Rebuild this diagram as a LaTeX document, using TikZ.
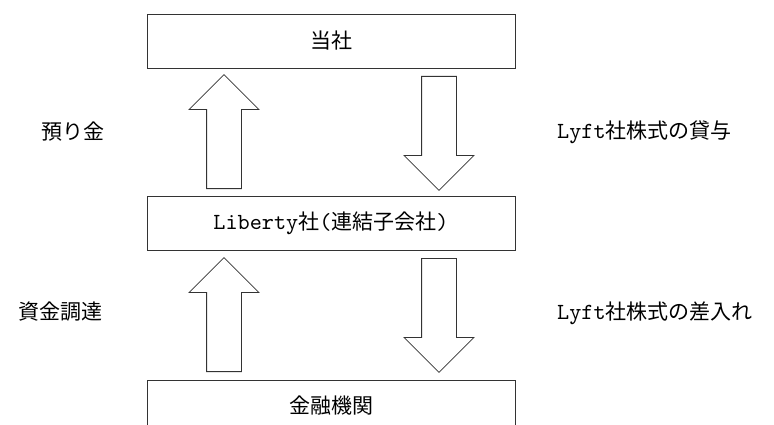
\documentclass[tikz,border=0pt]{standalone}
\usepackage{fontspec}
\setmainfont{Noto Sans CJK JP}
\setmonofont{lmmono10-regular.otf}[Scale=1.1]
\usetikzlibrary{positioning, shapes.arrows}
\newcommand{\lat}[1]{{\ttfamily #1}}

\begin{document}
\begin{tikzpicture}[
            x=1pt, y=-1pt,
            every node/.style={font=\fontsize{21}{25}\selectfont},
            box/.style={draw=black!80, line width=0.8pt, minimum width=368pt, minimum height=54pt, inner sep=0pt},
            bigarrow/.style={single arrow, draw=black!80, line width=0.8pt, inner xsep=0pt, inner ysep=17pt,
                single arrow head extend=17.5pt, minimum height=114pt, anchor=tail},
            uparrow/.style={bigarrow, rotate=90},
            downarrow/.style={bigarrow, rotate=-90},
            lbl/.style={inner sep=0pt}
            ]
        \clip (0,0) rectangle (774,425);

        \node[box] (tosha) at (331,41) {当社};
        \node[box] (liberty) at (331,223) {\lat{Liberty}社\lat{(}連結子会社\lat{)}};
        \node[box, minimum height=52pt] (bank) at (331,406) {金融機関};

        % frecce
        \node[uparrow] (up1) at (224,189) {};
        \node[downarrow] (down1) at (439,76) {};
        \node[uparrow] (up2) at (224,372) {};
        \node[downarrow] (down2) at (439,258) {};

        % etichette
        \node[lbl, anchor=east] (deposit) at (105,132) {預り金};
        \node[lbl, anchor=west] (lend) at (557,132) {\lat{Lyft}社株式の貸与};
        \node[lbl, anchor=east] (funding) at (103,312) {資金調達};
        \node[lbl, anchor=west] (pledge) at (557,313) {\lat{Lyft}社株式の差入れ};
\end{tikzpicture}
\end{document}
